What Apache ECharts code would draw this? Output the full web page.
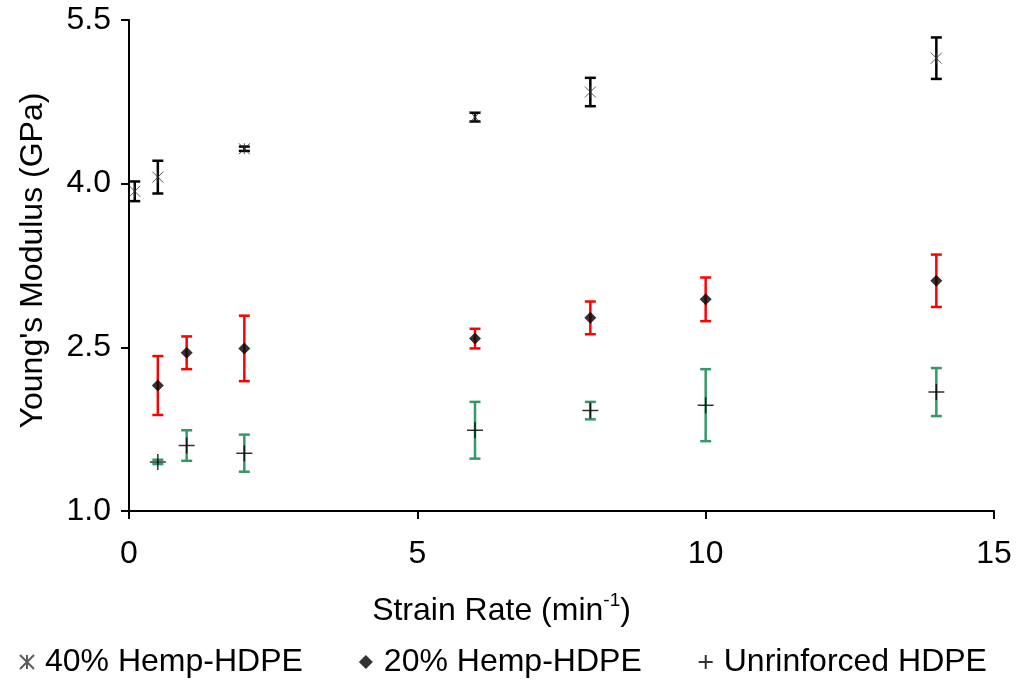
<!DOCTYPE html>
<html>
<head>
<meta charset="utf-8">
<title>Young's Modulus vs Strain Rate</title>
<script src="https://cdn.jsdelivr.net/npm/echarts@6/dist/echarts.min.js"></script>
<style>
  html, body { margin: 0; padding: 0; background: #fff; }
  #chart { width: 1017px; height: 683px; }
</style>
</head>
<body>
<div id="chart"></div>
<script>
// data: [strain rate, modulus, error]
var hemp40 = [[0.1, 3.93, 0.09], [0.5, 4.06, 0.15], [2, 4.32, 0.02], [6, 4.61, 0.04], [8, 4.84, 0.13], [14, 5.15, 0.19]];
var hemp20 = [[0.5, 2.15, 0.27], [1, 2.45, 0.15], [2, 2.49, 0.30], [6, 2.58, 0.09], [8, 2.77, 0.15], [10, 2.94, 0.20], [14, 3.11, 0.24]];
var hdpe = [[0.5, 1.45, 0.02], [1, 1.60, 0.14], [2, 1.53, 0.17], [6, 1.74, 0.26], [8, 1.92, 0.08], [10, 1.97, 0.33], [14, 2.09, 0.22]];
var yTicks = [1.0, 2.5, 4.0, 5.5];
var names = ['40% Hemp-HDPE', '20% Hemp-HDPE', 'Unrinforced HDPE'];

var font = 'Liberation Sans, Arial, sans-serif';

function points(arr) {
    return arr.map(function (d) { return [d[0], d[1]]; });
}

function bars(arr) {
    return arr.map(function (d) { return [d[0], d[1] - d[2], d[1] + d[2]]; });
}

// error bar with caps
function errorBars(name, arr, color) {
    return {
        name: name + ' err',
        type: 'custom',
        data: bars(arr),
        renderItem: function (params, api) {
            var lo = api.coord([api.value(0), api.value(1)]);
            var hi = api.coord([api.value(0), api.value(2)]);
            var w = 5.5;
            var style = { stroke: color, lineWidth: 2.5 };
            return {
                type: 'group',
                children: [
                    { type: 'line', shape: { x1: lo[0], y1: lo[1], x2: hi[0], y2: hi[1] }, style: style },
                    { type: 'line', shape: { x1: lo[0] - w, y1: lo[1], x2: lo[0] + w, y2: lo[1] }, style: style },
                    { type: 'line', shape: { x1: hi[0] - w, y1: hi[1], x2: hi[0] + w, y2: hi[1] }, style: style }
                ]
            };
        },
        z: 1
    };
}

var chart = echarts.init(document.getElementById('chart'));

var option = {
    backgroundColor: '#fff',
    animation: false,
    textStyle: { fontFamily: font },
    grid: { left: 129, right: 23, top: 20, bottom: 172, outerBoundsMode: 'none' },
    legend: {
        data: names,
        left: 14,
        bottom: 0,
        itemGap: 56,
        itemWidth: 14,
        itemHeight: 14,
        textStyle: { fontSize: 32, color: '#000', fontFamily: font, padding: [0, 0, 0, 6] }
    },
    xAxis: {
        type: 'value',
        min: 0,
        max: 15,
        interval: 5,
        splitLine: { show: false },
        axisLine: { lineStyle: { color: '#000', width: 2 } },
        axisTick: { show: true, length: 8, lineStyle: { color: '#000', width: 2 } },
        axisLabel: { fontSize: 32, color: '#000', margin: 27, fontFamily: font },
        name: '{b|Strain Rate (min}{s|-1}{b|)}',
        nameLocation: 'middle',
        nameGap: 80,
        nameTextStyle: {
            padding: [0, 120, 0, 0],
            rich: {
                b: { fontSize: 32, color: '#000', fontFamily: font, verticalAlign: 'bottom', lineHeight: 36 },
                s: { fontSize: 19, color: '#000', fontFamily: font, verticalAlign: 'top', lineHeight: 36 }
            }
        }
    },
    yAxis: {
        type: 'value',
        min: 1,
        max: 5.5,
        splitLine: { show: false },
        axisLine: { show: true, lineStyle: { color: '#000', width: 2 } },
        axisTick: { show: true, length: 8, customValues: yTicks, lineStyle: { color: '#000', width: 2 } },
        axisLabel: {
            fontSize: 32, color: '#000', margin: 18, fontFamily: font,
            customValues: yTicks,
            formatter: function (v) { return v.toFixed(1); }
        },
        name: "Young's Modulus (GPa)",
        nameLocation: 'middle',
        nameGap: 80,
        nameTextStyle: { fontSize: 32, color: '#000', fontFamily: font, padding: [0, 0, 0, 10] }
    },
    series: [
        errorBars(names[0], hemp40, '#000'),
        errorBars(names[1], hemp20, '#ff0000'),
        errorBars(names[2], hdpe, '#339966'),
        {
            name: names[0],
            type: 'scatter',
            data: points(hemp40),
            symbol: 'path://M0,0L10,10M10,0L0,10M5,0L5,10',
            symbolSize: 11,
            itemStyle: { color: 'transparent', borderColor: '#333', borderWidth: 1 },
            z: 3
        },
        {
            name: names[1],
            type: 'scatter',
            data: points(hemp20),
            symbol: 'diamond',
            symbolSize: 12,
            itemStyle: { color: '#000' },
            z: 3
        },
        {
            name: names[2],
            type: 'scatter',
            data: points(hdpe),
            symbol: 'path://M5,0L5,10M0,5L10,5',
            symbolSize: 16,
            itemStyle: { color: 'transparent', borderColor: '#000', borderWidth: 1.5 },
            z: 3
        }
    ]
};

chart.setOption(option);
</script>
</body>
</html>
